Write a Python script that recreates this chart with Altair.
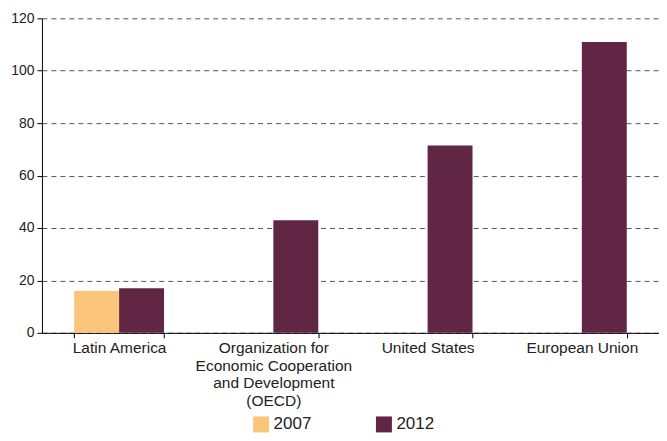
import altair as alt
import pandas as pd

regions = ["Latin America", "Latin America",
           "Organization for Economic Cooperation and Development (OECD)",
           "United States", "European Union"]
years = ["2007", "2012", "2012", "2012", "2012"]
values = [16.0, 17.0, 43.0, 71.5, 111.0]

region_order = ["Latin America",
                "Organization for Economic Cooperation and Development (OECD)",
                "United States", "European Union"]
year_order = ["2007", "2012"]
colors = ["#FBC47B", "#612644"]

df = pd.DataFrame({"region": regions, "year": years, "value": values})

label_expr = ("datum.label == 'Organization for Economic Cooperation and Development (OECD)' ? "
              "['Organization for', 'Economic Cooperation', 'and Development', '(OECD)'] : datum.label")

chart = alt.Chart(df).mark_bar().encode(
    x=alt.X("region:N", sort=region_order, title=None,
            scale=alt.Scale(paddingInner=0.4175, paddingOuter=0.209),
            axis=alt.Axis(labelAngle=0, labelExpr=label_expr, tickBand="extent",
                          labelFontSize=15.5, labelColor="#222", labelLineHeight=17.5,
                          labelPadding=3, tickSize=5, tickColor="#000",
                          domainColor="#000", labelFont="Liberation Sans",
                          labelLimit=300)),
    xOffset=alt.XOffset("year:N", sort=year_order,
                        scale=alt.Scale(paddingInner=0, paddingOuter=0)),
    y=alt.Y("value:Q", title=None,
            scale=alt.Scale(domain=[0, 120], nice=False),
            axis=alt.Axis(values=[0, 20, 40, 60, 80, 100, 120], grid=True,
                          gridDash=[5, 4], gridColor="#555", gridWidth=1,
                          labelFontSize=14, labelColor="#222", labelPadding=3,
                          tickSize=5, tickColor="#000", domainColor="#000",
                          labelFont="Liberation Sans")),
    color=alt.Color("year:N", sort=year_order, title=None,
                    scale=alt.Scale(domain=year_order, range=colors),
                    legend=alt.Legend(orient="none", legendX=211, legendY=398,
                                      direction="horizontal", symbolType="square",
                                      symbolSize=256, symbolStrokeWidth=0,
                                      labelFontSize=17, labelFont="Liberation Sans",
                                      labelColor="#222", labelOffset=4,
                                      columnPadding=64)),
).properties(
    width=618, height=315,
    padding={"left": 2, "top": 3, "right": 0, "bottom": 0},
).configure_view(stroke=None).configure_axis(
    domainWidth=1, tickWidth=1
)

chart.save("out.html", embed_options={"renderer": "svg", "actions": False})
